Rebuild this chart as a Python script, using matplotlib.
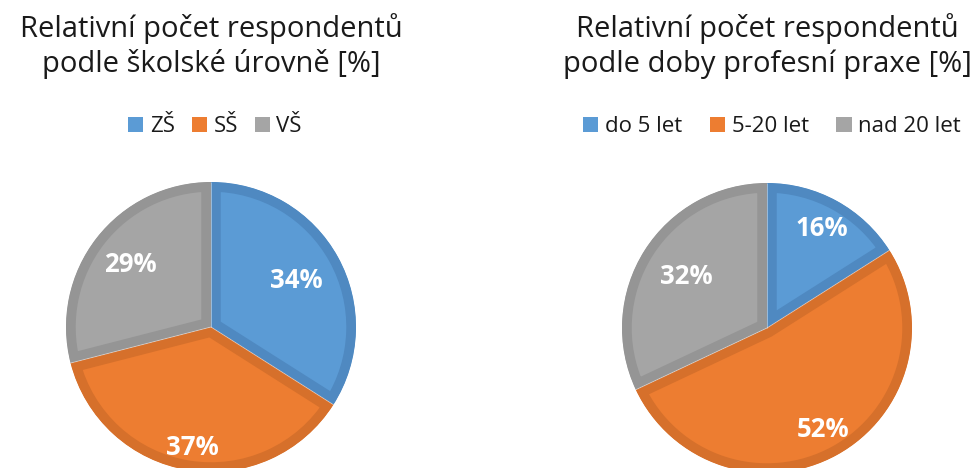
import matplotlib
matplotlib.use("Agg")
import numpy as np
import matplotlib.pyplot as plt
from matplotlib.patches import Patch, Wedge

# ---- data ----
left_title = ["Relativní počet respondentů", "podle školské úrovně [%]"]
left_labels = ["ZŠ", "SŠ", "VŠ"]
left_values = [34, 37, 29]

right_title = ["Relativní počet respondentů", "podle doby profesní praxe [%]"]
right_labels = ["do 5 let", "5-20 let", "nad 20 let"]
right_values = [16, 52, 32]

# ---- style ----
fills = ["#5B9BD5", "#ED7D31", "#A5A5A5"]
edges = ["#4F89C1", "#D6702B", "#959595"]
FONT = ["Open Sans", "DejaVu Sans"]
W, H = 979, 468
R = 145  # pie radius in px
left_label_r = [0.67, 0.84, 0.70]
right_label_r = [0.78, 0.80, 0.66]

fig = plt.figure(figsize=(W / 100, H / 100), dpi=100)


def draw_pie(cx, cy, values, labels, title, label_r, legend_cx, colsp):
    ax = fig.add_axes([(cx - R) / W, (H - cy - R) / H, 2 * R / W, 2 * R / H])
    wedges, _ = ax.pie(values, colors=fills, startangle=90, counterclock=False,
                       radius=1.0, wedgeprops=dict(linewidth=0))
    ax.set_xlim(-1, 1)
    ax.set_ylim(-1, 1)
    ax.set_aspect("equal")
    ax.axis("off")
    total = sum(values)
    start = 90.0
    for w, e, v, lr in zip(wedges, edges, values, label_r):
        clip = Wedge(w.center, w.r, w.theta1, w.theta2, transform=ax.transData)
        w.set_edgecolor(e)
        w.set_linewidth(14)
        w.set_clip_on(True)
        w.set_clip_path(clip)
        ang = start - 360.0 * v / total / 2
        start -= 360.0 * v / total
        x = lr * np.cos(np.radians(ang))
        y = lr * np.sin(np.radians(ang))
        ax.text(x, y, f"{round(100 * v / total)}%", ha="center", va="center",
                color="white", fontsize=18.5, fontweight="bold", family=FONT)
    # faint light separators between slices
    for w in wedges:
        t = np.radians(w.theta1)
        ax.plot([0, np.cos(t)], [0, np.sin(t)], color="white", lw=0.6, alpha=0.5,
                solid_capstyle="butt")
    for line, base in zip(title, [37, 72]):
        fig.text(cx / W, 1 - base / H, line, ha="center", va="baseline",
                 fontsize=21, family=FONT, color="#1a1a1a")
    handles = [Patch(facecolor=f, edgecolor="none") for f in fills]
    fig.legend(handles, labels, loc="center", bbox_to_anchor=(legend_cx / W, 1 - 127 / H),
               ncol=3, frameon=False, prop=dict(family=FONT, size=16),
               handlelength=0.68, handleheight=0.68, handletextpad=0.3,
               columnspacing=colsp, labelcolor="#1a1a1a", borderpad=0)


draw_pie(211, 327, left_values, left_labels, left_title, left_label_r, 215, 0.75)
draw_pie(767, 328, right_values, right_labels, right_title, right_label_r, 772, 1.25)

fig.savefig("out.png", dpi=100, facecolor="white")
